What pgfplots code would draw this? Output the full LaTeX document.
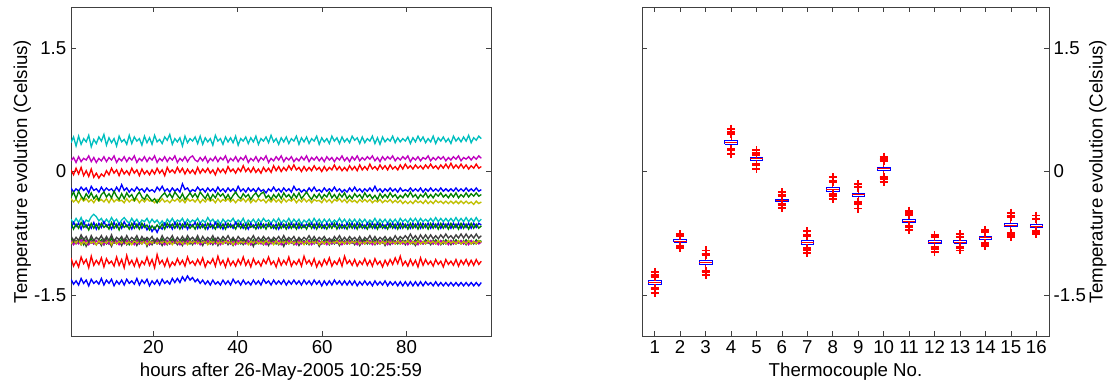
\documentclass[border=0pt]{standalone}
\usepackage{fontspec}
\setmainfont{Liberation Sans}
\usepackage{pgfplots}
\usepackage{pgfplotstable}
\pgfplotsset{compat=1.18}
\definecolor{mb}{rgb}{0,0,1}
\definecolor{mg}{rgb}{0,0.5,0}
\definecolor{mr}{rgb}{1,0,0}
\definecolor{mc}{rgb}{0,0.75,0.75}
\definecolor{mm}{rgb}{0.75,0,0.75}
\definecolor{my}{rgb}{0.75,0.75,0}
\definecolor{mk}{rgb}{0.25,0.25,0.25}
\pgfplotstableread{
x c1 c2 c3 c4 c5 c6 c7 c8 c9 c10 c11 c12 c13 c14 c15 c16
0.5 -1.31 -0.82 -1.05 0.35 0.13 -0.33 -0.90 -0.20 -0.31 0.02 -0.58 -0.84 -0.88 -0.78 -0.69 -0.63
1.1 -1.37 -0.88 -1.15 0.42 0.17 -0.37 -0.83 -0.25 -0.25 -0.04 -0.63 -0.89 -0.84 -0.85 -0.62 -0.70
1.7 -1.33 -0.84 -1.09 0.31 0.11 -0.34 -0.88 -0.21 -0.33 0.04 -0.57 -0.85 -0.87 -0.80 -0.67 -0.64
2.3 -1.38 -0.87 -1.16 0.43 0.18 -0.38 -0.84 -0.24 -0.24 -0.03 -0.62 -0.88 -0.83 -0.84 -0.63 -0.69
2.9 -1.30 -0.81 -1.04 0.33 0.12 -0.32 -0.89 -0.19 -0.30 0.05 -0.56 -0.83 -0.89 -0.77 -0.70 -0.62
3.5 -1.36 -0.89 -1.12 0.40 0.16 -0.36 -0.82 -0.23 -0.34 -0.05 -0.64 -0.87 -0.85 -0.83 -0.61 -0.68
4.1 -1.32 -0.83 -1.07 0.36 0.14 -0.33 -0.91 -0.20 -0.27 0.01 -0.59 -0.84 -0.88 -0.79 -0.68 -0.65
4.7 -1.39 -0.86 -1.17 0.44 0.19 -0.37 -0.85 -0.26 -0.32 -0.06 -0.61 -0.89 -0.84 -0.86 -0.64 -0.71
5.3 -1.31 -0.82 -1.03 0.30 0.12 -0.34 -0.87 -0.18 -0.26 0.03 -0.55 -0.85 -0.87 -0.78 -0.69 -0.63
5.9 -1.36 -0.88 -1.14 0.39 0.17 -0.38 -0.83 -0.23 -0.33 -0.07 -0.52 -0.88 -0.85 -0.84 -0.62 -0.69
6.5 -1.33 -0.84 -1.08 0.34 0.11 -0.33 -0.89 -0.21 -0.29 -0.02 -0.55 -0.84 -0.89 -0.80 -0.70 -0.64
7.1 -1.37 -0.87 -1.13 0.42 0.16 -0.36 -0.84 -0.25 -0.35 -0.08 -0.60 -0.87 -0.84 -0.83 -0.63 -0.70
7.7 -1.30 -0.83 -1.05 0.37 0.13 -0.34 -0.90 -0.19 -0.28 -0.03 -0.57 -0.85 -0.88 -0.78 -0.68 -0.63
8.3 -1.38 -0.89 -1.16 0.45 0.18 -0.37 -0.82 -0.24 -0.25 -0.06 -0.63 -0.89 -0.85 -0.85 -0.61 -0.68
8.9 -1.32 -0.82 -1.06 0.32 0.12 -0.33 -0.88 -0.20 -0.31 0.01 -0.58 -0.84 -0.87 -0.79 -0.67 -0.65
9.5 -1.36 -0.88 -1.12 0.41 0.17 -0.38 -0.85 -0.23 -0.27 -0.04 -0.62 -0.88 -0.83 -0.84 -0.64 -0.70
10.1 -1.31 -0.81 -1.09 0.35 0.14 -0.32 -0.91 -0.21 -0.32 0.04 -0.56 -0.85 -0.89 -0.77 -0.70 -0.62
10.7 -1.39 -0.87 -1.15 0.40 0.19 -0.37 -0.83 -0.25 -0.24 -0.02 -0.61 -0.87 -0.84 -0.85 -0.62 -0.69
11.3 -1.33 -0.84 -1.04 0.31 0.11 -0.34 -0.88 -0.19 -0.30 0.02 -0.58 -0.84 -0.88 -0.80 -0.68 -0.64
11.9 -1.37 -0.88 -1.14 0.43 0.16 -0.36 -0.84 -0.24 -0.34 -0.05 -0.64 -0.89 -0.85 -0.83 -0.63 -0.71
12.5 -1.32 -0.82 -1.07 0.36 0.13 -0.35 -0.90 -0.16 -0.27 0.03 -0.59 -0.85 -0.87 -0.79 -0.69 -0.63
13.1 -1.38 -0.86 -1.17 0.39 0.18 -0.38 -0.82 -0.23 -0.33 -0.03 -0.56 -0.88 -0.84 -0.86 -0.61 -0.68
13.7 -1.31 -0.83 -1.02 0.33 0.12 -0.33 -0.89 -0.20 -0.26 0.01 -0.60 -0.84 -0.88 -0.78 -0.67 -0.65
14.3 -1.36 -0.89 -1.13 0.44 0.17 -0.37 -0.85 -0.25 -0.31 -0.04 -0.63 -0.87 -0.85 -0.84 -0.64 -0.70
14.9 -1.33 -0.84 -1.08 0.34 0.14 -0.34 -0.87 -0.21 -0.28 0.04 -0.57 -0.85 -0.89 -0.80 -0.70 -0.63
15.5 -1.37 -0.87 -1.15 0.42 0.19 -0.36 -0.83 -0.24 -0.35 -0.02 -0.62 -0.89 -0.84 -0.83 -0.62 -0.69
16.1 -1.30 -0.82 -1.06 0.37 0.11 -0.33 -0.90 -0.19 -0.29 0.02 -0.58 -0.84 -0.87 -0.78 -0.68 -0.64
16.7 -1.38 -0.88 -1.16 0.40 0.16 -0.38 -0.84 -0.23 -0.25 -0.05 -0.64 -0.88 -0.85 -0.85 -0.63 -0.70
17.3 -1.32 -0.83 -1.09 0.32 0.13 -0.34 -0.88 -0.21 -0.31 0.03 -0.59 -0.85 -0.88 -0.79 -0.69 -0.63
17.9 -1.36 -0.86 -1.13 0.43 0.18 -0.37 -0.82 -0.25 -0.34 -0.03 -0.61 -0.87 -0.84 -0.84 -0.64 -0.68
18.5 -1.31 -0.82 -1.04 0.35 0.12 -0.33 -0.91 -0.20 -0.28 0.01 -0.57 -0.84 -0.89 -0.80 -0.71 -0.65
19.1 -1.39 -0.89 -1.14 0.41 0.17 -0.36 -0.84 -0.24 -0.32 -0.04 -0.63 -0.89 -0.85 -0.83 -0.66 -0.71
19.7 -1.33 -0.84 -1.07 0.33 0.14 -0.35 -0.89 -0.22 -0.36 0.02 -0.58 -0.85 -0.87 -0.79 -0.73 -0.66
20.3 -1.37 -0.87 -1.17 0.44 0.19 -0.38 -0.83 -0.25 -0.33 -0.03 -0.62 -0.87 -0.84 -0.86 -0.68 -0.70
20.9 -1.32 -0.83 -1.01 0.36 0.11 -0.34 -0.88 -0.19 -0.38 0.04 -0.59 -0.84 -0.88 -0.81 -0.74 -0.65
21.5 -1.38 -0.88 -1.12 0.39 0.16 -0.37 -0.85 -0.23 -0.33 -0.02 -0.64 -0.88 -0.85 -0.85 -0.67 -0.69
22.1 -1.31 -0.82 -1.08 0.34 0.13 -0.33 -0.90 -0.18 -0.29 0.02 -0.60 -0.85 -0.87 -0.78 -0.70 -0.64
22.7 -1.36 -0.87 -1.15 0.42 0.18 -0.37 -0.84 -0.24 -0.26 -0.05 -0.65 -0.89 -0.84 -0.84 -0.63 -0.70
23.3 -1.33 -0.84 -1.06 0.38 0.12 -0.35 -0.89 -0.21 -0.31 0.05 -0.58 -0.84 -0.88 -0.80 -0.68 -0.63
23.9 -1.37 -0.88 -1.16 0.45 0.17 -0.38 -0.83 -0.25 -0.27 -0.01 -0.62 -0.88 -0.85 -0.83 -0.64 -0.68
24.5 -1.30 -0.82 -1.10 0.33 0.14 -0.34 -0.87 -0.20 -0.32 0.02 -0.57 -0.85 -0.89 -0.78 -0.70 -0.64
25.1 -1.35 -0.87 -1.14 0.40 0.19 -0.36 -0.84 -0.24 -0.25 -0.02 -0.63 -0.87 -0.84 -0.85 -0.62 -0.69
25.7 -1.30 -0.84 -1.06 0.36 0.11 -0.33 -0.89 -0.21 -0.29 0.05 -0.59 -0.84 -0.87 -0.80 -0.68 -0.63
26.3 -1.35 -0.88 -1.13 0.41 0.16 -0.37 -0.85 -0.25 -0.33 -0.01 -0.61 -0.89 -0.85 -0.84 -0.63 -0.70
26.9 -1.28 -0.83 -1.08 0.31 0.13 -0.34 -0.90 -0.15 -0.27 0.04 -0.57 -0.85 -0.88 -0.79 -0.69 -0.64
27.5 -1.33 -0.86 -1.15 0.43 0.18 -0.38 -0.82 -0.22 -0.34 -0.03 -0.64 -0.88 -0.84 -0.85 -0.62 -0.68
28.1 -1.27 -0.82 -1.04 0.35 0.12 -0.33 -0.88 -0.20 -0.30 0.03 -0.58 -0.84 -0.89 -0.78 -0.70 -0.63
28.7 -1.32 -0.88 -1.12 0.40 0.17 -0.36 -0.84 -0.25 -0.26 -0.02 -0.62 -0.87 -0.85 -0.83 -0.64 -0.69
29.3 -1.29 -0.84 -1.09 0.37 0.19 -0.34 -0.89 -0.22 -0.31 0.02 -0.59 -0.85 -0.87 -0.80 -0.67 -0.65
29.9 -1.34 -0.87 -1.14 0.42 0.14 -0.37 -0.83 -0.24 -0.27 -0.03 -0.61 -0.88 -0.84 -0.84 -0.62 -0.70
30.5 -1.31 -0.82 -1.07 0.34 0.12 -0.33 -0.87 -0.19 -0.32 0.05 -0.57 -0.84 -0.88 -0.78 -0.69 -0.63
31.1 -1.36 -0.88 -1.13 0.43 0.17 -0.38 -0.85 -0.23 -0.25 -0.02 -0.63 -0.89 -0.85 -0.85 -0.63 -0.69
31.7 -1.32 -0.84 -1.05 0.33 0.13 -0.34 -0.90 -0.21 -0.29 0.03 -0.59 -0.85 -0.87 -0.79 -0.68 -0.64
32.3 -1.37 -0.87 -1.16 0.41 0.18 -0.37 -0.83 -0.25 -0.33 -0.01 -0.62 -0.87 -0.84 -0.84 -0.64 -0.70
32.9 -1.33 -0.83 -1.09 0.36 0.11 -0.33 -0.88 -0.20 -0.27 0.04 -0.56 -0.84 -0.89 -0.80 -0.70 -0.63
33.5 -1.38 -0.88 -1.12 0.40 0.16 -0.36 -0.84 -0.24 -0.34 -0.02 -0.61 -0.88 -0.85 -0.83 -0.63 -0.68
34.1 -1.32 -0.82 -1.06 0.32 0.13 -0.34 -0.89 -0.21 -0.28 0.02 -0.58 -0.85 -0.87 -0.78 -0.69 -0.65
34.7 -1.37 -0.87 -1.15 0.44 0.18 -0.38 -0.82 -0.25 -0.32 -0.04 -0.63 -0.88 -0.84 -0.85 -0.62 -0.70
35.3 -1.34 -0.84 -1.03 0.37 0.12 -0.33 -0.90 -0.19 -0.26 0.04 -0.59 -0.84 -0.88 -0.80 -0.68 -0.63
35.9 -1.38 -0.88 -1.13 0.40 0.17 -0.37 -0.84 -0.24 -0.30 -0.01 -0.64 -0.89 -0.85 -0.84 -0.64 -0.69
36.5 -1.32 -0.83 -1.08 0.33 0.14 -0.34 -0.88 -0.21 -0.27 0.03 -0.58 -0.85 -0.88 -0.79 -0.70 -0.64
37.1 -1.37 -0.87 -1.16 0.42 0.19 -0.36 -0.83 -0.25 -0.33 -0.02 -0.62 -0.87 -0.84 -0.83 -0.63 -0.70
37.7 -1.33 -0.84 -1.06 0.36 0.11 -0.33 -0.89 -0.20 -0.28 0.06 -0.59 -0.84 -0.87 -0.78 -0.68 -0.63
38.3 -1.38 -0.88 -1.14 0.41 0.16 -0.37 -0.85 -0.24 -0.34 0.00 -0.61 -0.88 -0.85 -0.84 -0.64 -0.68
38.9 -1.31 -0.82 -1.09 0.35 0.13 -0.34 -0.90 -0.21 -0.29 0.03 -0.57 -0.85 -0.89 -0.80 -0.69 -0.65
39.5 -1.36 -0.87 -1.15 0.43 0.18 -0.38 -0.84 -0.25 -0.25 -0.02 -0.63 -0.89 -0.84 -0.85 -0.62 -0.70
40.1 -1.33 -0.84 -1.07 0.32 0.12 -0.34 -0.88 -0.18 -0.30 0.04 -0.59 -0.84 -0.88 -0.79 -0.67 -0.63
40.7 -1.38 -0.88 -1.13 0.40 0.17 -0.36 -0.83 -0.24 -0.33 0.00 -0.62 -0.87 -0.85 -0.83 -0.63 -0.69
41.3 -1.32 -0.83 -1.04 0.37 0.14 -0.33 -0.89 -0.21 -0.27 0.07 -0.57 -0.85 -0.87 -0.81 -0.69 -0.64
41.9 -1.37 -0.87 -1.14 0.42 0.19 -0.37 -0.85 -0.25 -0.31 0.00 -0.64 -0.88 -0.84 -0.85 -0.64 -0.70
42.5 -1.34 -0.84 -1.08 0.34 0.11 -0.33 -0.87 -0.20 -0.28 0.04 -0.59 -0.84 -0.89 -0.80 -0.70 -0.63
43.1 -1.38 -0.89 -1.16 0.41 0.16 -0.38 -0.84 -0.24 -0.34 -0.01 -0.62 -0.89 -0.85 -0.83 -0.63 -0.68
43.7 -1.32 -0.83 -1.06 0.36 0.13 -0.34 -0.91 -0.21 -0.29 0.05 -0.58 -0.85 -0.87 -0.78 -0.68 -0.65
44.3 -1.37 -0.88 -1.13 0.43 0.18 -0.37 -0.83 -0.25 -0.26 -0.01 -0.63 -0.87 -0.84 -0.84 -0.64 -0.70
44.9 -1.33 -0.84 -1.09 0.33 0.12 -0.33 -0.88 -0.20 -0.31 0.03 -0.58 -0.84 -0.88 -0.80 -0.69 -0.63
45.5 -1.38 -0.87 -1.15 0.40 0.17 -0.36 -0.85 -0.24 -0.27 -0.02 -0.62 -0.88 -0.85 -0.84 -0.63 -0.69
46.1 -1.31 -0.83 -1.07 0.37 0.14 -0.34 -0.89 -0.22 -0.25 0.05 -0.57 -0.85 -0.88 -0.79 -0.68 -0.64
46.7 -1.36 -0.88 -1.12 0.42 0.19 -0.38 -0.84 -0.26 -0.32 0.00 -0.61 -0.89 -0.84 -0.83 -0.64 -0.70
47.3 -1.33 -0.84 -1.04 0.35 0.11 -0.34 -0.90 -0.21 -0.29 0.04 -0.59 -0.84 -0.87 -0.80 -0.67 -0.63
47.9 -1.38 -0.87 -1.13 0.44 0.16 -0.37 -0.83 -0.24 -0.34 -0.01 -0.63 -0.88 -0.85 -0.85 -0.63 -0.69
48.5 -1.32 -0.83 -1.09 0.36 0.13 -0.33 -0.88 -0.19 -0.28 0.07 -0.58 -0.85 -0.89 -0.80 -0.69 -0.65
49.1 -1.37 -0.88 -1.16 0.40 0.18 -0.37 -0.84 -0.24 -0.32 0.01 -0.62 -0.87 -0.84 -0.83 -0.64 -0.70
49.7 -1.33 -0.84 -1.06 0.33 0.14 -0.34 -0.89 -0.21 -0.27 0.06 -0.57 -0.84 -0.88 -0.79 -0.70 -0.63
50.3 -1.37 -0.87 -1.14 0.41 0.19 -0.38 -0.85 -0.25 -0.33 0.00 -0.63 -0.89 -0.85 -0.84 -0.63 -0.69
50.9 -1.32 -0.83 -1.08 0.36 0.12 -0.33 -0.91 -0.20 -0.26 0.05 -0.59 -0.85 -0.87 -0.78 -0.68 -0.64
51.5 -1.38 -0.88 -1.13 0.42 0.17 -0.37 -0.83 -0.24 -0.31 0.01 -0.62 -0.88 -0.84 -0.84 -0.64 -0.70
52.1 -1.33 -0.83 -1.04 0.34 0.14 -0.34 -0.88 -0.21 -0.28 0.07 -0.57 -0.84 -0.88 -0.80 -0.69 -0.63
52.7 -1.37 -0.87 -1.15 0.40 0.18 -0.36 -0.84 -0.25 -0.33 0.02 -0.63 -0.87 -0.85 -0.83 -0.63 -0.69
53.3 -1.32 -0.84 -1.09 0.37 0.12 -0.33 -0.89 -0.18 -0.27 0.08 -0.58 -0.85 -0.88 -0.79 -0.68 -0.64
53.9 -1.37 -0.88 -1.13 0.43 0.16 -0.38 -0.84 -0.23 -0.32 0.02 -0.62 -0.89 -0.84 -0.85 -0.63 -0.70
54.5 -1.33 -0.83 -1.07 0.33 0.13 -0.34 -0.90 -0.21 -0.26 0.05 -0.58 -0.84 -0.87 -0.80 -0.69 -0.63
55.1 -1.38 -0.87 -1.15 0.41 0.18 -0.37 -0.85 -0.25 -0.33 0.00 -0.64 -0.88 -0.85 -0.84 -0.64 -0.69
55.7 -1.32 -0.84 -1.03 0.36 0.14 -0.33 -0.88 -0.22 -0.29 0.06 -0.59 -0.85 -0.89 -0.80 -0.68 -0.65
56.3 -1.37 -0.88 -1.12 0.42 0.19 -0.37 -0.84 -0.25 -0.25 0.01 -0.62 -0.87 -0.84 -0.83 -0.64 -0.70
56.9 -1.33 -0.83 -1.08 0.34 0.12 -0.34 -0.89 -0.20 -0.30 0.05 -0.58 -0.84 -0.88 -0.78 -0.67 -0.63
57.5 -1.38 -0.88 -1.14 0.40 0.17 -0.38 -0.85 -0.24 -0.34 0.01 -0.63 -0.89 -0.85 -0.84 -0.63 -0.69
58.1 -1.32 -0.83 -1.06 0.37 0.14 -0.34 -0.88 -0.19 -0.28 0.07 -0.57 -0.85 -0.87 -0.79 -0.69 -0.64
58.7 -1.37 -0.87 -1.16 0.43 0.18 -0.36 -0.84 -0.24 -0.32 0.02 -0.62 -0.87 -0.84 -0.84 -0.63 -0.70
59.3 -1.33 -0.84 -1.09 0.33 0.13 -0.35 -0.91 -0.22 -0.27 0.05 -0.58 -0.84 -0.89 -0.80 -0.68 -0.63
59.9 -1.39 -0.88 -1.15 0.41 0.17 -0.38 -0.85 -0.25 -0.33 0.00 -0.63 -0.88 -0.85 -0.83 -0.64 -0.69
60.5 -1.33 -0.83 -1.07 0.36 0.12 -0.33 -0.88 -0.20 -0.28 0.06 -0.58 -0.85 -0.88 -0.79 -0.69 -0.65
61.1 -1.38 -0.87 -1.13 0.40 0.18 -0.37 -0.84 -0.24 -0.31 0.01 -0.62 -0.89 -0.84 -0.84 -0.63 -0.70
61.7 -1.33 -0.84 -1.05 0.34 0.14 -0.34 -0.89 -0.21 -0.25 0.05 -0.58 -0.84 -0.88 -0.81 -0.68 -0.64
62.3 -1.38 -0.88 -1.15 0.43 0.17 -0.38 -0.83 -0.24 -0.32 0.02 -0.63 -0.88 -0.85 -0.85 -0.63 -0.69
62.9 -1.32 -0.83 -1.09 0.37 0.12 -0.34 -0.88 -0.19 -0.28 0.08 -0.59 -0.85 -0.87 -0.79 -0.67 -0.63
63.5 -1.37 -0.87 -1.13 0.41 0.17 -0.36 -0.84 -0.24 -0.33 0.02 -0.62 -0.87 -0.84 -0.83 -0.63 -0.70
64.1 -1.33 -0.83 -1.06 0.34 0.14 -0.33 -0.90 -0.21 -0.27 0.06 -0.57 -0.84 -0.88 -0.78 -0.69 -0.64
64.7 -1.38 -0.88 -1.15 0.42 0.19 -0.37 -0.84 -0.25 -0.31 0.01 -0.62 -0.89 -0.85 -0.84 -0.64 -0.69
65.3 -1.33 -0.84 -1.03 0.36 0.13 -0.34 -0.88 -0.22 -0.26 0.05 -0.58 -0.85 -0.88 -0.80 -0.69 -0.65
65.9 -1.38 -0.88 -1.12 0.40 0.17 -0.38 -0.85 -0.25 -0.33 0.01 -0.63 -0.88 -0.84 -0.84 -0.63 -0.70
66.5 -1.33 -0.83 -1.08 0.35 0.12 -0.34 -0.88 -0.20 -0.29 0.07 -0.58 -0.84 -0.88 -0.79 -0.68 -0.63
67.1 -1.38 -0.87 -1.14 0.43 0.18 -0.37 -0.84 -0.24 -0.33 0.02 -0.62 -0.87 -0.85 -0.83 -0.63 -0.69
67.7 -1.33 -0.84 -1.07 0.38 0.14 -0.35 -0.89 -0.19 -0.27 0.06 -0.58 -0.85 -0.87 -0.80 -0.69 -0.64
68.3 -1.39 -0.88 -1.15 0.41 0.19 -0.38 -0.84 -0.24 -0.31 0.01 -0.63 -0.89 -0.84 -0.84 -0.63 -0.70
68.9 -1.34 -0.83 -1.09 0.34 0.13 -0.34 -0.90 -0.21 -0.28 0.08 -0.58 -0.84 -0.88 -0.79 -0.68 -0.63
69.5 -1.38 -0.87 -1.13 0.42 0.17 -0.37 -0.84 -0.25 -0.33 0.02 -0.62 -0.88 -0.85 -0.85 -0.64 -0.69
70.1 -1.33 -0.83 -1.06 0.35 0.14 -0.34 -0.88 -0.21 -0.26 0.06 -0.58 -0.85 -0.88 -0.80 -0.69 -0.65
70.7 -1.38 -0.88 -1.14 0.40 0.18 -0.37 -0.83 -0.24 -0.31 0.02 -0.63 -0.87 -0.84 -0.83 -0.63 -0.70
71.3 -1.34 -0.84 -1.08 0.37 0.15 -0.34 -0.88 -0.20 -0.28 0.09 -0.59 -0.84 -0.87 -0.78 -0.68 -0.63
71.9 -1.39 -0.87 -1.15 0.43 0.19 -0.38 -0.85 -0.24 -0.33 0.03 -0.62 -0.89 -0.85 -0.84 -0.63 -0.69
72.5 -1.33 -0.83 -1.06 0.34 0.13 -0.35 -0.89 -0.18 -0.29 0.06 -0.57 -0.85 -0.88 -0.79 -0.69 -0.64
73.1 -1.38 -0.88 -1.13 0.41 0.17 -0.37 -0.84 -0.24 -0.34 0.02 -0.63 -0.88 -0.84 -0.84 -0.63 -0.70
73.7 -1.34 -0.84 -1.09 0.33 0.12 -0.34 -0.88 -0.21 -0.27 0.08 -0.58 -0.84 -0.88 -0.80 -0.68 -0.63
74.3 -1.38 -0.87 -1.16 0.42 0.18 -0.38 -0.84 -0.25 -0.32 0.03 -0.62 -0.87 -0.85 -0.83 -0.64 -0.69
74.9 -1.33 -0.83 -1.08 0.36 0.14 -0.35 -0.90 -0.21 -0.28 0.07 -0.58 -0.85 -0.88 -0.79 -0.69 -0.65
75.5 -1.39 -0.88 -1.14 0.40 0.18 -0.37 -0.84 -0.24 -0.32 0.02 -0.63 -0.89 -0.84 -0.84 -0.63 -0.70
76.1 -1.34 -0.83 -1.07 0.37 0.15 -0.34 -0.89 -0.20 -0.26 0.08 -0.58 -0.84 -0.87 -0.80 -0.68 -0.63
76.7 -1.38 -0.87 -1.13 0.43 0.19 -0.38 -0.84 -0.24 -0.31 0.03 -0.62 -0.88 -0.85 -0.84 -0.63 -0.69
77.3 -1.34 -0.84 -1.05 0.35 0.13 -0.35 -0.88 -0.21 -0.28 0.06 -0.58 -0.85 -0.88 -0.78 -0.69 -0.64
77.9 -1.39 -0.88 -1.12 0.41 0.17 -0.38 -0.85 -0.25 -0.33 0.02 -0.63 -0.87 -0.84 -0.83 -0.63 -0.70
78.5 -1.34 -0.83 -1.03 0.36 0.14 -0.35 -0.88 -0.20 -0.29 0.08 -0.57 -0.84 -0.88 -0.79 -0.69 -0.63
79.1 -1.39 -0.87 -1.14 0.40 0.18 -0.39 -0.84 -0.24 -0.32 0.03 -0.61 -0.88 -0.85 -0.82 -0.63 -0.69
79.7 -1.34 -0.84 -1.09 0.37 0.15 -0.36 -0.89 -0.22 -0.27 0.09 -0.58 -0.85 -0.87 -0.78 -0.68 -0.64
80.3 -1.39 -0.88 -1.15 0.42 0.19 -0.39 -0.83 -0.24 -0.31 0.04 -0.62 -0.89 -0.84 -0.82 -0.64 -0.70
80.9 -1.34 -0.83 -1.07 0.34 0.12 -0.36 -0.88 -0.20 -0.25 0.07 -0.57 -0.84 -0.88 -0.76 -0.69 -0.63
81.5 -1.39 -0.88 -1.14 0.41 0.17 -0.39 -0.85 -0.24 -0.31 0.03 -0.61 -0.87 -0.85 -0.82 -0.63 -0.69
82.1 -1.34 -0.83 -1.08 0.36 0.14 -0.35 -0.90 -0.21 -0.28 0.08 -0.57 -0.85 -0.88 -0.78 -0.68 -0.64
82.7 -1.39 -0.87 -1.16 0.43 0.18 -0.38 -0.84 -0.24 -0.33 0.04 -0.62 -0.89 -0.84 -0.83 -0.63 -0.70
83.3 -1.34 -0.84 -1.05 0.37 0.13 -0.36 -0.88 -0.20 -0.28 0.07 -0.57 -0.84 -0.88 -0.77 -0.69 -0.63
83.9 -1.39 -0.88 -1.14 0.42 0.17 -0.39 -0.85 -0.25 -0.31 0.03 -0.61 -0.88 -0.85 -0.82 -0.63 -0.69
84.5 -1.34 -0.83 -1.07 0.35 0.15 -0.35 -0.88 -0.21 -0.26 0.08 -0.58 -0.85 -0.88 -0.77 -0.68 -0.64
85.1 -1.38 -0.87 -1.13 0.40 0.19 -0.39 -0.84 -0.24 -0.32 0.04 -0.61 -0.87 -0.84 -0.82 -0.63 -0.70
85.7 -1.35 -0.84 -1.09 0.36 0.13 -0.36 -0.89 -0.20 -0.28 0.09 -0.57 -0.84 -0.87 -0.77 -0.69 -0.63
86.3 -1.39 -0.88 -1.15 0.43 0.17 -0.39 -0.84 -0.24 -0.32 0.04 -0.61 -0.88 -0.85 -0.82 -0.63 -0.69
86.9 -1.34 -0.83 -1.07 0.34 0.14 -0.35 -0.88 -0.21 -0.27 0.07 -0.56 -0.85 -0.88 -0.78 -0.68 -0.64
87.5 -1.39 -0.87 -1.13 0.41 0.18 -0.38 -0.85 -0.24 -0.30 0.03 -0.61 -0.89 -0.84 -0.82 -0.63 -0.70
88.1 -1.35 -0.84 -1.09 0.37 0.15 -0.36 -0.89 -0.20 -0.26 0.08 -0.57 -0.84 -0.88 -0.77 -0.69 -0.63
88.7 -1.39 -0.88 -1.16 0.42 0.18 -0.39 -0.84 -0.24 -0.31 0.04 -0.61 -0.87 -0.85 -0.81 -0.63 -0.69
89.3 -1.35 -0.83 -1.07 0.36 0.13 -0.36 -0.88 -0.21 -0.28 0.09 -0.57 -0.85 -0.88 -0.76 -0.68 -0.64
89.9 -1.39 -0.87 -1.13 0.40 0.17 -0.39 -0.84 -0.24 -0.32 0.04 -0.61 -0.89 -0.84 -0.81 -0.63 -0.70
90.5 -1.35 -0.84 -1.09 0.34 0.14 -0.36 -0.89 -0.21 -0.27 0.10 -0.57 -0.84 -0.87 -0.78 -0.69 -0.63
91.1 -1.39 -0.88 -1.14 0.43 0.18 -0.39 -0.84 -0.24 -0.31 0.04 -0.61 -0.88 -0.85 -0.82 -0.63 -0.69
91.7 -1.35 -0.83 -1.07 0.37 0.15 -0.36 -0.88 -0.20 -0.26 0.08 -0.56 -0.85 -0.88 -0.77 -0.68 -0.64
92.3 -1.39 -0.87 -1.15 0.41 0.19 -0.39 -0.85 -0.24 -0.32 0.04 -0.61 -0.87 -0.84 -0.81 -0.63 -0.70
92.9 -1.35 -0.84 -1.08 0.36 0.13 -0.36 -0.88 -0.21 -0.28 0.09 -0.57 -0.84 -0.88 -0.76 -0.69 -0.63
93.5 -1.39 -0.88 -1.13 0.42 0.17 -0.39 -0.84 -0.24 -0.31 0.04 -0.61 -0.88 -0.85 -0.81 -0.63 -0.69
94.1 -1.35 -0.83 -1.07 0.37 0.15 -0.36 -0.89 -0.20 -0.26 0.08 -0.56 -0.85 -0.88 -0.76 -0.68 -0.64
94.7 -1.39 -0.87 -1.14 0.44 0.18 -0.39 -0.84 -0.24 -0.31 0.03 -0.61 -0.89 -0.84 -0.81 -0.63 -0.70
95.3 -1.35 -0.84 -1.08 0.35 0.14 -0.37 -0.88 -0.21 -0.27 0.07 -0.57 -0.84 -0.88 -0.77 -0.69 -0.63
95.9 -1.39 -0.88 -1.14 0.41 0.18 -0.40 -0.85 -0.24 -0.30 0.04 -0.61 -0.87 -0.85 -0.81 -0.63 -0.69
96.5 -1.35 -0.83 -1.07 0.38 0.15 -0.36 -0.88 -0.20 -0.26 0.09 -0.56 -0.85 -0.88 -0.76 -0.68 -0.64
97.1 -1.39 -0.87 -1.13 0.43 0.19 -0.39 -0.84 -0.24 -0.30 0.04 -0.61 -0.88 -0.84 -0.81 -0.63 -0.69
97.7 -1.35 -0.84 -1.09 0.40 0.16 -0.37 -0.86 -0.22 -0.28 0.06 -0.58 -0.86 -0.86 -0.78 -0.65 -0.66
}\tsdata
\pgfplotstableread{
x y
0.75 -1.368
1.25 -1.368
1.25 -1.320
0.75 -1.320
0.75 -1.368
1 nan
1.75 -0.862
2.25 -0.862
2.25 -0.830
1.75 -0.830
1.75 -0.862
2 nan
2.75 -1.133
3.25 -1.133
3.25 -1.085
2.75 -1.085
2.75 -1.133
3 nan
3.75 0.332
4.25 0.332
4.25 0.380
3.75 0.380
3.75 0.332
4 nan
4.75 0.138
5.25 0.138
5.25 0.170
4.75 0.170
4.75 0.138
5 nan
5.75 -0.368
6.25 -0.368
6.25 -0.336
5.75 -0.336
5.75 -0.368
6 nan
6.75 -0.890
7.25 -0.890
7.25 -0.842
6.75 -0.842
6.75 -0.890
7 nan
7.75 -0.243
8.25 -0.243
8.25 -0.195
7.75 -0.195
7.75 -0.243
8 nan
8.75 -0.297
9.25 -0.297
9.25 -0.261
8.75 -0.261
8.75 -0.297
9 nan
9.75 0.008
10.25 0.008
10.25 0.056
9.75 0.056
9.75 0.008
10 nan
10.75 -0.624
11.25 -0.624
11.25 -0.582
10.75 -0.582
10.75 -0.624
11 nan
11.75 -0.874
12.25 -0.874
12.25 -0.842
11.75 -0.842
11.75 -0.874
12 nan
12.75 -0.874
13.25 -0.874
13.25 -0.842
12.75 -0.842
12.75 -0.874
13 nan
13.75 -0.826
14.25 -0.826
14.25 -0.786
13.75 -0.786
13.75 -0.826
14 nan
14.75 -0.672
15.25 -0.672
15.25 -0.632
14.75 -0.632
14.75 -0.672
15 nan
15.75 -0.682
16.25 -0.682
16.25 -0.646
15.75 -0.646
15.75 -0.682
}\boxes
\pgfplotstableread{
x y
0.75 -1.344
1.25 -1.344
1 nan
1.75 -0.846
2.25 -0.846
2 nan
2.75 -1.109
3.25 -1.109
3 nan
3.75 0.356
4.25 0.356
4 nan
4.75 0.154
5.25 0.154
5 nan
5.75 -0.352
6.25 -0.352
6 nan
6.75 -0.866
7.25 -0.866
7 nan
7.75 -0.219
8.25 -0.219
8 nan
8.75 -0.279
9.25 -0.279
9 nan
9.75 0.032
10.25 0.032
10 nan
10.75 -0.603
11.25 -0.603
11 nan
11.75 -0.858
12.25 -0.858
12 nan
12.75 -0.858
13.25 -0.858
13 nan
13.75 -0.806
14.25 -0.806
14 nan
14.75 -0.652
15.25 -0.652
15 nan
15.75 -0.664
16.25 -0.664
}\medians
\pgfplotstableread{
x y
1 -1.320
1 -1.22
1 nan
1 -1.368
1 -1.475
1 nan
2 -0.830
2 -0.76
2 nan
2 -0.862
2 -0.925
2 nan
3 -1.085
3 -0.96
3 nan
3 -1.133
3 -1.26
3 nan
4 0.380
4 0.52
4 nan
4 0.332
4 0.215
4 nan
5 0.170
5 0.26
5 nan
5 0.138
5 0.03
5 nan
6 -0.336
6 -0.25
6 nan
6 -0.368
6 -0.44
6 nan
7 -0.842
7 -0.725
7 nan
7 -0.890
7 -0.99
7 nan
8 -0.195
8 -0.07
8 nan
8 -0.243
8 -0.33
8 nan
9 -0.261
9 -0.15
9 nan
9 -0.297
9 -0.45
9 nan
10 0.056
10 0.18
10 nan
10 0.008
10 -0.125
10 nan
11 -0.582
11 -0.475
11 nan
11 -0.624
11 -0.715
11 nan
12 -0.842
12 -0.77
12 nan
12 -0.874
12 -0.98
12 nan
13 -0.842
13 -0.765
13 nan
13 -0.874
13 -0.96
13 nan
14 -0.786
14 -0.71
14 nan
14 -0.826
14 -0.91
14 nan
15 -0.632
15 -0.50
15 nan
15 -0.672
15 -0.80
15 nan
16 -0.646
16 -0.535
16 nan
16 -0.682
16 -0.765
}\whiskers
\pgfplotstableread{
x y
1 -1.281
1 -1.276
1 -1.271
1 -1.266
1 -1.261
1 -1.22
1 -1.415
1 -1.42
1 -1.425
1 -1.43
1 -1.435
1 -1.475
2 -0.78
2 -0.775
2 -0.76
2 -0.902
2 -0.907
2 -0.912
2 -0.925
3 -1.018
3 -1.013
3 -1.008
3 -1.003
3 -0.96
3 -1.21
3 -1.215
3 -1.22
3 -1.225
3 -1.26
4 0.46
4 0.465
4 0.47
4 0.475
4 0.48
4 0.52
4 0.257
4 0.262
4 0.267
4 0.272
4 0.277
4 0.215
5 0.205
5 0.21
5 0.215
5 0.22
5 0.225
5 0.26
5 0.075
5 0.08
5 0.085
5 0.09
5 0.095
5 0.03
6 -0.30
6 -0.295
6 -0.29
6 -0.285
6 -0.25
6 -0.41
6 -0.405
6 -0.40
6 -0.395
6 -0.44
7 -0.787
7 -0.782
7 -0.777
7 -0.772
7 -0.767
7 -0.725
7 -0.95
7 -0.945
7 -0.94
7 -0.935
7 -0.99
8 -0.131
8 -0.126
8 -0.121
8 -0.116
8 -0.111
8 -0.07
8 -0.293
8 -0.288
8 -0.283
8 -0.278
8 -0.33
9 -0.195
9 -0.19
9 -0.15
9 -0.395
9 -0.39
9 -0.385
9 -0.38
9 -0.375
9 -0.45
10 0.132
10 0.137
10 0.142
10 0.147
10 0.18
10 -0.087
10 -0.082
10 -0.077
10 -0.072
10 -0.125
11 -0.524
11 -0.519
11 -0.514
11 -0.509
11 -0.504
11 -0.475
11 -0.678
11 -0.673
11 -0.668
11 -0.663
11 -0.715
12 -0.795
12 -0.79
12 -0.77
12 -0.937
12 -0.932
12 -0.927
12 -0.922
12 -0.917
12 -0.98
13 -0.795
13 -0.79
13 -0.765
13 -0.925
13 -0.92
13 -0.915
13 -0.96
14 -0.742
14 -0.737
14 -0.71
14 -0.884
14 -0.879
14 -0.874
14 -0.91
15 -0.557
15 -0.552
15 -0.547
15 -0.542
15 -0.50
15 -0.767
15 -0.762
15 -0.757
15 -0.752
15 -0.80
16 -0.58
16 -0.575
16 -0.535
16 -0.734
16 -0.729
16 -0.724
16 -0.765
}\outliers
\begin{document}
\begin{tikzpicture}
\path[use as bounding box] (0,0) rectangle (837pt,290.25pt);
\pgfplotsset{
  common/.style={
    scale only axis, height=246.75pt,
    ymin=-2, ymax=2, ytick={-1.5,0,1.5}, yticklabels={-1.5,0,1.5},
    axis line style={black!75, line width=0.6pt},
    tick style={black!75, line width=0.5pt},
    major tick length=3.75pt, tick align=inside,
    font=\fontsize{14}{16}\selectfont,
    /pgf/number format/assume math mode=true,
    ylabel shift=-4.5pt,
  },
  ts/.style={line width=1pt},
}
\begin{axis}[common, at={(53.25pt,38.25pt)}, anchor=south west, width=315pt,
  xmin=0.5, xmax=100, xtick={20,40,60,80}, xticklabels={20,40,60,80},
  xlabel={hours after 26-May-2005 10:25:59},
  ylabel={Temperature evolution (Celsius)}]
\addplot[ts, mb] table[x=x,y=c1]{\tsdata};
\addplot[ts, mg] table[x=x,y=c2]{\tsdata};
\addplot[ts, mr] table[x=x,y=c3]{\tsdata};
\addplot[ts, mc] table[x=x,y=c4]{\tsdata};
\addplot[ts, mm] table[x=x,y=c5]{\tsdata};
\addplot[ts, my] table[x=x,y=c6]{\tsdata};
\addplot[ts, mk] table[x=x,y=c7]{\tsdata};
\addplot[ts, mb] table[x=x,y=c8]{\tsdata};
\addplot[ts, mg] table[x=x,y=c9]{\tsdata};
\addplot[ts, mr] table[x=x,y=c10]{\tsdata};
\addplot[ts, mc] table[x=x,y=c11]{\tsdata};
\addplot[ts, mm] table[x=x,y=c12]{\tsdata};
\addplot[ts, my] table[x=x,y=c13]{\tsdata};
\addplot[ts, mk] table[x=x,y=c14]{\tsdata};
\addplot[ts, mb] table[x=x,y=c15]{\tsdata};
\addplot[ts, mg] table[x=x,y=c16]{\tsdata};
\end{axis}
\begin{axis}[common, at={(481.5pt,38.25pt)}, anchor=south west, width=305.25pt,
  xmin=0.5, xmax=16.5, xtick={1,2,3,4,5,6,7,8,9,10,11,12,13,14,15,16},
  xticklabels={1,2,3,4,5,6,7,8,9,10,11,12,13,14,15,16},
  yticklabel pos=right, ylabel near ticks,
  xlabel={Thermocouple No.},
  ylabel={Temperature evolution (Celsius)},
  unbounded coords=jump]
\addplot[red, line width=0.8pt] table[x=x,y=y]{\whiskers};
\addplot[red, only marks, mark=+, mark size=3pt, mark options={line width=1.4pt}] table[x=x,y=y]{\outliers};
\addplot[blue, line width=0.55pt] table[x=x,y=y]{\boxes};
\addplot[red, line width=0.7pt] table[x=x,y=y]{\medians};
\end{axis}
\end{tikzpicture}
\end{document}
